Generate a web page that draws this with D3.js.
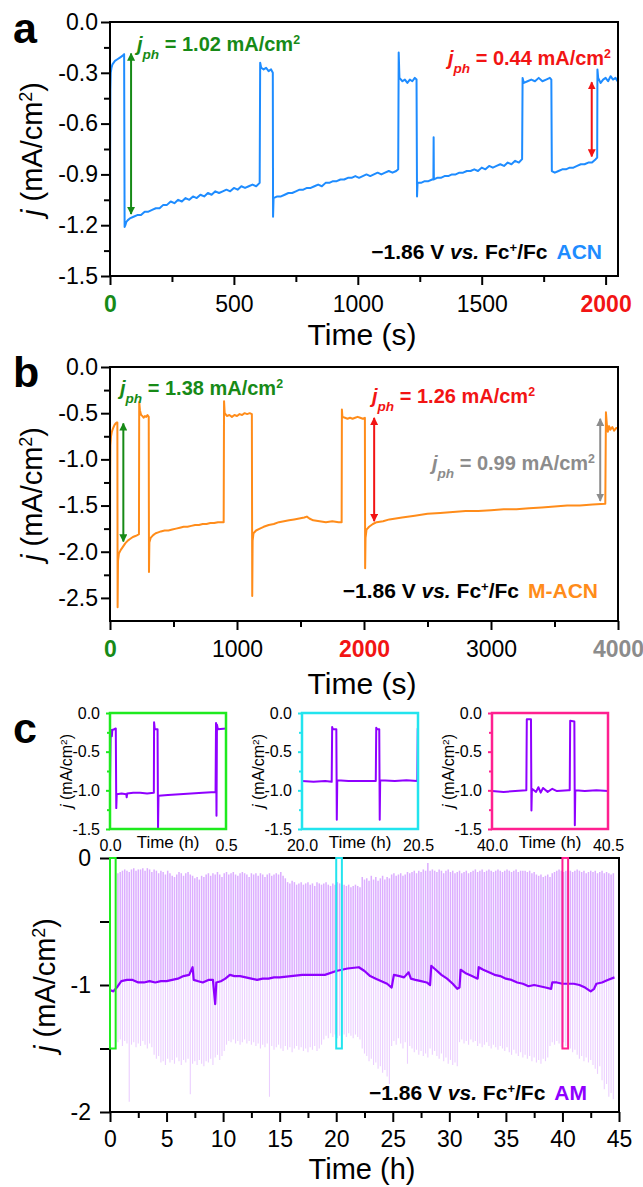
<!DOCTYPE html>
<meta charset="utf-8">
<style>
body { margin: 0; background: #fff; }
svg { font-family: "Liberation Sans", Arial, Helvetica, sans-serif; }
</style>
<body>
<script src="https://d3js.org/d3.v7.min.js"></script>
<script>
var width = 643, height = 1187;

var green = "#178a17", red = "#f21414", gray = "#8c8c8c",
    blue = "#1e8cff", orange = "#ff8c1a", purple = "#8f00ff",
    lilacUp = "#dcaeff", lilacDown = "#ebcfff";

// ---------- panel a : ACN, time (s) vs j (mA/cm2)
var acnTrace = [[0,-1.50],[0.5,-0.80],[1.5,-0.40],[3,-0.30],[6,-0.27],[10,-0.25],[15,-0.24],[20,-0.23],[30,-0.22],[40,-0.21],[50,-0.20],[57,-0.19],
  [59,-1.21],[62,-1.20],[66,-1.18],[72,-1.17],[80,-1.16],[95,-1.15],[110,-1.14],[125,-1.14],[140,-1.12],[155,-1.12],[170,-1.11],[185,-1.10],[200,-1.10],[215,-1.08],[230,-1.08],[245,-1.06],[260,-1.07],[275,-1.05],[290,-1.06],[305,-1.04],[320,-1.05],[335,-1.03],[350,-1.04],[365,-1.02],[380,-1.03],[395,-1.01],[410,-1.02],[425,-1.00],[440,-1.01],[455,-1.00],[470,-0.99],[485,-1.00],[500,-0.98],[515,-0.99],[530,-0.97],[545,-0.98],[560,-0.97],[575,-0.96],[590,-0.97],[604,-0.95],
  [606,-0.24],[610,-0.27],[620,-0.28],[630,-0.27],[640,-0.29],[650,-0.28],[657,-0.30],
  [658,-1.15],[660,-1.04],[675,-1.03],[690,-1.03],[705,-1.02],[720,-1.01],[735,-1.01],[750,-1.00],[765,-0.99],[780,-0.99],[795,-0.98],[810,-0.98],[825,-0.97],[840,-0.96],[855,-0.97],[870,-0.95],[885,-0.95],[900,-0.94],[915,-0.94],[930,-0.93],[945,-0.93],[960,-0.92],[975,-0.92],[990,-0.91],[1005,-0.92],[1020,-0.91],[1035,-0.90],[1050,-0.91],[1065,-0.90],[1080,-0.89],[1095,-0.90],[1110,-0.89],[1125,-0.88],[1140,-0.89],[1155,-0.88],[1163,-0.87],
  [1165,-0.18],[1168,-0.33],[1180,-0.35],[1190,-0.34],[1200,-0.36],[1210,-0.34],[1220,-0.35],[1230,-0.33],[1237,-0.34],
  [1239,-1.03],[1241,-0.95],[1255,-0.95],[1270,-0.94],[1285,-0.94],[1300,-0.93],[1305,-0.93],[1306,-0.68],[1307,-0.93],[1320,-0.92],[1335,-0.92],[1350,-0.91],[1365,-0.91],[1380,-0.90],[1395,-0.90],[1410,-0.89],[1425,-0.89],[1440,-0.88],[1455,-0.88],[1470,-0.87],[1485,-0.88],[1500,-0.86],[1515,-0.87],[1530,-0.85],[1545,-0.86],[1560,-0.85],[1575,-0.84],[1590,-0.85],[1605,-0.83],[1620,-0.84],[1635,-0.82],[1650,-0.83],[1663,-0.81],
  [1665,-0.33],[1670,-0.36],[1685,-0.35],[1700,-0.34],[1715,-0.35],[1730,-0.33],[1745,-0.35],[1760,-0.34],[1775,-0.33],[1781,-0.34],
  [1783,-0.88],[1795,-0.89],[1810,-0.88],[1825,-0.87],[1840,-0.87],[1855,-0.86],[1870,-0.86],[1885,-0.85],[1900,-0.84],[1915,-0.84],[1930,-0.83],[1945,-0.83],[1960,-0.81],[1966,-0.80],
  [1967,-0.28],[1970,-0.33],[1980,-0.36],[1990,-0.34],[2000,-0.33],[2010,-0.35],[2020,-0.32],[2030,-0.34],[2040,-0.33],[2048,-0.35]];
var acnXMajor = [0, 500, 1000, 1500, 2000], acnXMinor = [250, 750, 1250, 1750];
var acnYMajor = [0, -0.3, -0.6, -0.9, -1.2, -1.5], acnYMinor = [-0.15, -0.45, -0.75, -1.05, -1.35];
var acnArrows = [[85, -0.18, -1.14, green], [1944, -0.35, -0.80, red]];

// ---------- panel b : M-ACN
var macnTrace = [[0,-2.75],[1,-1.20],[3,-0.85],[8,-0.75],[15,-0.70],[25,-0.66],[35,-0.63],[45,-0.61],[55,-0.60],[58,-0.60],
  [60,-2.60],[63,-2.10],[70,-2.02],[85,-1.98],[100,-1.95],[120,-1.91],[140,-1.88],[160,-1.86],[180,-1.84],[200,-1.83],[215,-1.82],[228,-1.81],
  [230,-0.38],[236,-0.47],[245,-0.52],[255,-0.53],[265,-0.55],[275,-0.53],[285,-0.54],[295,-0.52],[305,-0.54],
  [307,-2.22],[310,-1.90],[320,-1.85],[340,-1.82],[360,-1.80],[380,-1.79],[400,-1.78],[430,-1.77],[460,-1.77],[490,-1.76],[520,-1.75],[550,-1.74],[580,-1.73],[610,-1.73],[640,-1.72],[670,-1.71],[700,-1.71],[730,-1.70],[760,-1.70],[790,-1.69],[820,-1.69],[850,-1.68],[880,-1.68],[895,-1.68],
  [898,-0.37],[903,-0.50],[920,-0.53],[940,-0.52],[960,-0.54],[980,-0.52],[1000,-0.53],[1020,-0.51],[1040,-0.52],[1060,-0.50],[1080,-0.51],[1100,-0.50],[1117,-0.51],
  [1120,-2.48],[1123,-1.88],[1130,-1.80],[1150,-1.77],[1180,-1.75],[1210,-1.73],[1250,-1.71],[1290,-1.70],[1330,-1.68],[1370,-1.67],[1410,-1.66],[1450,-1.65],[1490,-1.64],[1530,-1.63],[1550,-1.62],[1570,-1.64],[1600,-1.66],[1650,-1.67],[1700,-1.68],[1750,-1.67],[1800,-1.68],[1824,-1.68],
  [1826,-0.46],[1830,-0.54],[1850,-0.55],[1870,-0.56],[1890,-0.55],[1910,-0.56],[1930,-0.55],[1950,-0.54],[1970,-0.55],[1990,-0.56],[2007,-0.55],
  [2009,-2.18],[2012,-1.85],[2020,-1.76],[2040,-1.73],[2070,-1.70],[2100,-1.68],[2150,-1.67],[2200,-1.65],[2300,-1.63],[2400,-1.61],[2500,-1.59],[2600,-1.58],[2700,-1.57],[2800,-1.56],[2900,-1.56],[3000,-1.55],[3100,-1.54],[3200,-1.54],[3300,-1.53],[3400,-1.52],[3500,-1.51],[3600,-1.50],[3700,-1.50],[3800,-1.49],[3900,-1.48],
  [3905,-0.49],[3912,-0.62],[3920,-0.70],[3930,-0.64],[3940,-0.68],[3955,-0.65],[3970,-0.69],[3985,-0.66],[4000,-0.67]];
var macnXMajor = [0, 1000, 2000, 3000, 4000], macnXMinor = [500, 1500, 2500, 3500];
var macnYMajor = [0, -0.5, -1, -1.5, -2, -2.5], macnYMinor = [-0.25, -0.75, -1.25, -1.75, -2.25];
var macnArrows = [[105, -0.60, -1.90, green], [2080, -0.54, -1.68, red], [3860, -0.55, -1.46, gray]];

// ---------- panel c : AM, long run (h)
var amBase = [[0,-1.04],[0.3,-1.05],[0.6,-1.02],[1,-0.97],[1.5,-0.96],[2,-0.96],[2.5,-0.98],[3,-0.98],[3.5,-0.97],[4,-0.98],[4.5,-0.97],[5,-0.97],[5.5,-0.96],[6,-0.95],[6.5,-0.93],[7,-0.92],[7.3,-0.86],[7.4,-0.96],[7.8,-0.97],[8.2,-0.98],[8.7,-0.96],[9.1,-0.96],[9.3,-1.15],[9.4,-0.98],[9.8,-0.97],[10.2,-0.95],[10.6,-0.92],[11,-0.93],[11.5,-0.93],[12,-0.94],[12.5,-0.95],[13,-0.96],[13.5,-0.95],[14,-0.95],[14.5,-0.94],[15,-0.94],[16,-0.93],[17,-0.92],[18,-0.92],[19,-0.92],[20,-0.89],[21,-0.87],[22,-0.86],[22.5,-0.89],[23,-0.93],[23.5,-0.95],[24,-0.97],[24.5,-0.99],[24.9,-1.02],[25.1,-0.92],[25.6,-0.93],[26,-0.94],[26.4,-0.90],[26.6,-0.95],[27,-0.96],[27.5,-0.97],[28,-0.98],[28.3,-1.00],[28.4,-0.85],[28.8,-0.88],[29.3,-0.92],[29.8,-0.95],[30.3,-0.99],[30.7,-1.03],[30.9,-1.02],[31,-0.88],[31.5,-0.91],[32,-0.93],[32.5,-0.95],[32.6,-0.86],[33,-0.88],[33.5,-0.90],[34,-0.92],[34.5,-0.93],[35,-0.95],[35.5,-0.96],[36,-0.98],[36.5,-0.99],[37,-1.01],[37.5,-1.00],[38,-1.01],[38.5,-1.02],[39,-1.03],[39.1,-0.98],[39.5,-0.98],[40,-0.99],[40.5,-0.99],[41,-0.99],[41.5,-1.00],[42,-1.02],[42.5,-1.05],[42.8,-1.03],[43,-0.99],[43.5,-0.98],[44,-0.96],[44.6,-0.94]];
// light-on pulses, one every 0.2 h from 0.7 h: peak (top) and cathodic spike (low)
var pulseStart = 0.7, pulseStep = 0.2;
var pulseTop = [
  -0.12,-0.11,-0.10,-0.09,-0.10,-0.11,-0.09,-0.08,-0.10,-0.09,
  -0.09,-0.08,-0.10,-0.08,-0.09,-0.11,-0.09,-0.10,-0.12,-0.10,
  -0.11,-0.13,-0.10,-0.12,-0.14,-0.15,-0.13,-0.11,-0.12,-0.14,
  -0.12,-0.11,-0.13,-0.14,-0.16,-0.15,-0.17,-0.14,-0.15,-0.13,
  -0.12,-0.14,-0.12,-0.13,-0.11,-0.13,-0.15,-0.12,-0.11,-0.13,
  -0.12,-0.11,-0.13,-0.14,-0.12,-0.11,-0.12,-0.13,-0.15,-0.12,
  -0.13,-0.12,-0.14,-0.12,-0.13,-0.15,-0.13,-0.12,-0.14,-0.13,
  -0.12,-0.13,-0.11,-0.14,-0.16,-0.19,-0.20,-0.18,-0.19,-0.21,
  -0.20,-0.19,-0.21,-0.20,-0.19,-0.21,-0.20,-0.22,-0.19,-0.20,
  -0.21,-0.20,-0.19,-0.21,-0.22,-0.20,-0.21,-0.19,-0.20,-0.21,
  -0.21,-0.22,-0.21,-0.23,-0.22,-0.21,-0.22,-0.23,-0.15,-0.17,
  -0.16,-0.18,-0.14,-0.17,-0.15,-0.18,-0.16,-0.14,-0.17,-0.15,
  -0.16,-0.13,-0.12,-0.14,-0.13,-0.12,-0.14,-0.13,-0.11,-0.12,
  -0.11,-0.10,-0.12,-0.10,-0.11,-0.09,-0.10,-0.04,-0.10,-0.09,
  -0.10,-0.11,-0.09,-0.10,-0.12,-0.10,-0.09,-0.11,-0.10,-0.12,
  -0.11,-0.10,-0.12,-0.11,-0.10,-0.12,-0.11,-0.10,-0.09,-0.11,
  -0.10,-0.09,-0.11,-0.10,-0.09,-0.10,-0.11,-0.10,-0.09,-0.10,
  -0.11,-0.10,-0.09,-0.10,-0.11,-0.10,-0.09,-0.11,-0.10,-0.10,
  -0.10,-0.11,-0.10,-0.12,-0.11,-0.13,-0.14,-0.13,-0.15,-0.14,
  -0.13,-0.15,-0.12,-0.11,-0.10,-0.09,-0.10,-0.11,-0.10,-0.09,
  -0.10,-0.11,-0.10,-0.09,-0.10,-0.11,-0.10,-0.12,-0.11,-0.10,
  -0.11,-0.10,-0.12,-0.11,-0.10,-0.12,-0.11,-0.12,-0.13,-0.12];
var pulseLow = [
  -1.45,-1.43,-1.48,-1.44,-1.46,-1.92,-1.47,-1.45,-1.49,-1.46,
  -1.48,-1.44,-1.47,-1.50,-1.46,-1.49,-1.55,-1.58,-1.56,-1.61,
  -1.60,-1.63,-1.58,-1.61,-1.59,-1.62,-1.57,-1.60,-1.63,-1.59,
  -1.61,-1.58,-1.86,-1.62,-1.60,-1.63,-1.59,-1.62,-1.64,-1.60,
  -1.61,-1.58,-1.63,-1.57,-1.55,-1.59,-1.56,-1.52,-1.47,-1.44,
  -1.45,-1.43,-1.46,-1.44,-1.47,-1.45,-1.43,-1.46,-1.44,-1.47,
  -1.45,-1.48,-1.46,-1.50,-1.47,-1.49,-1.46,-1.88,-1.48,-1.51,
  -1.49,-1.47,-1.50,-1.52,-1.48,-1.51,-1.49,-1.53,-1.50,-1.48,
  -1.51,-1.49,-1.52,-1.50,-1.53,-1.49,-1.51,-1.48,-1.52,-1.50,
  -1.47,-1.43,-1.40,-1.42,-1.38,-1.41,-1.39,-1.42,-1.40,-1.37,
  -1.39,-1.41,-1.38,-1.40,-1.42,-1.39,-1.41,-1.43,-1.50,-1.54,
  -1.56,-1.60,-1.58,-1.63,-1.61,-1.66,-1.64,-1.69,-1.67,-1.72,
  -1.78,-1.48,-1.44,-1.47,-1.42,-1.46,-1.50,-1.45,-1.62,-1.48,
  -1.50,-1.53,-1.51,-1.55,-1.52,-1.56,-1.54,-1.57,-1.50,-1.55,
  -1.52,-1.56,-1.58,-1.54,-1.60,-1.57,-1.62,-1.59,-1.63,-1.61,
  -1.64,-1.45,-1.43,-1.46,-1.44,-1.47,-1.43,-1.45,-1.44,-1.48,
  -1.46,-1.49,-1.47,-1.45,-1.48,-1.50,-1.47,-1.49,-1.51,-1.48,
  -1.50,-1.52,-1.49,-1.53,-1.55,-1.51,-1.54,-1.56,-1.53,-1.57,
  -1.55,-1.58,-1.56,-1.60,-1.57,-1.61,-1.59,-1.62,-1.58,-1.60,
  -1.57,-1.48,-1.45,-1.47,-1.44,-1.46,-1.49,-1.45,-1.48,-1.47,
  -1.50,-1.53,-1.51,-1.55,-1.58,-1.56,-1.60,-1.57,-1.61,-1.59,
  -1.63,-1.66,-1.70,-1.64,-1.75,-1.82,-1.78,-1.88,-1.85,-1.90];
var amXMajor = [0, 5, 10, 15, 20, 25, 30, 35, 40, 45], amXMinor = [2.5, 7.5, 12.5, 17.5, 22.5, 27.5, 32.5, 37.5, 42.5];
var amYMajor = [0, -0.5, -1, -1.5, -2];

// zoomed windows (insets)
var insetWindows = [[0, 0.5], [20, 20.5], [40, 40.5]];
var insetTraces = [
  [[0,-0.90],[0.003,-0.25],[0.006,-0.22],[0.008,-0.30],[0.010,-0.22],[0.018,-0.21],[0.025,-0.20],[0.027,-1.23],[0.029,-1.05],[0.05,-1.04],[0.07,-1.05],[0.072,-1.09],[0.074,-1.04],[0.10,-1.03],[0.13,-1.03],[0.16,-1.04],[0.189,-1.03],[0.190,-0.12],[0.193,-0.21],[0.205,-0.21],[0.207,-1.50],[0.209,-1.07],[0.25,-1.06],[0.30,-1.05],[0.35,-1.04],[0.40,-1.03],[0.455,-1.02],[0.457,-0.13],[0.459,-1.33],[0.461,-0.15],[0.465,-0.21],[0.50,-0.20]],
  [[20.00,-0.88],[20.05,-0.89],[20.10,-0.88],[20.128,-0.89],[20.130,-0.18],[20.133,-0.21],[20.148,-0.21],[20.150,-1.38],[20.152,-0.87],[20.20,-0.88],[20.25,-0.88],[20.30,-0.88],[20.318,-0.88],[20.320,-0.19],[20.323,-0.21],[20.333,-0.21],[20.335,-1.38],[20.337,-0.87],[20.40,-0.88],[20.45,-0.87],[20.497,-0.88],[20.499,-0.20],[20.50,-0.20]],
  [[40.00,-1.01],[40.05,-1.02],[40.10,-1.01],[40.148,-1.00],[40.150,-0.08],[40.168,-0.08],[40.170,-1.26],[40.172,-0.98],[40.19,-1.02],[40.20,-0.96],[40.21,-1.03],[40.22,-0.97],[40.24,-1.02],[40.26,-0.98],[40.28,-1.01],[40.33,-1.00],[40.335,-1.00],[40.337,-0.10],[40.355,-0.11],[40.357,-1.45],[40.359,-1.00],[40.40,-1.01],[40.45,-1.00],[40.50,-1.01]]];
var insetYMajor = [0, -0.5, -1, -1.5], insetYMinor = [-0.25, -0.75, -1.25];
var insetColors = ["#1eea1e", "#22e4ee", "#ff2090"];

var svg = d3.select("body").append("svg")
    .attr("width", width)
    .attr("height", height);

var defs = svg.append("defs");
[[green, "ag"], [red, "ar"], [gray, "ay"]].forEach(function(c) {
  defs.append("marker").attr("id", c[1])
    .attr("viewBox", "0 0 10 10").attr("refX", 9).attr("refY", 5)
    .attr("markerWidth", 4).attr("markerHeight", 4)
    .attr("orient", "auto-start-reverse")
    .append("path").attr("d", "M0,0L10,5L0,10z").attr("fill", c[0]);
});
var markerOf = {};
markerOf[green] = "ag"; markerOf[red] = "ar"; markerOf[gray] = "ay";

// text with italic / super / sub pieces
function rich(parent, x, y, parts, o) {
  var t = parent.append("text").attr("x", x).attr("y", y)
      .attr("font-size", o.size)
      .attr("font-weight", o.bold ? "bold" : "normal")
      .attr("fill", o.color || "#000")
      .attr("text-anchor", o.anchor || "start");
  if (o.rotate) t.attr("transform", "rotate(-90," + x + "," + y + ")");
  parts.forEach(function(p) {
    var s = t.append("tspan").text(p[0]);
    var f = p[1] || "";
    if (f.indexOf("i") >= 0) s.attr("font-style", "italic");
    if (f.indexOf("^") >= 0) s.attr("baseline-shift", "super").attr("font-size", "62%");
    if (f.indexOf("_") >= 0) s.attr("baseline-shift", "sub").attr("font-size", "68%");
    if (p[2]) s.attr("fill", p[2]);
    if (p[3]) s.attr("dx", p[3]);
  });
  return t;
}

function drawAxes(x, y, o) {
  var g = svg.append("g");
  var bottom = y.range()[1], left = x.range()[0];
  g.append("g").attr("transform", "translate(0," + bottom + ")")
    .call(d3.axisBottom(x).tickValues(o.xMinor).tickSize(o.minor).tickFormat(""));
  var xg = g.append("g").attr("class", "xa").attr("transform", "translate(0," + bottom + ")")
    .call(d3.axisBottom(x).tickValues(o.xMajor).tickSize(o.major).tickPadding(o.xPad).tickFormat(o.xFmt));
  g.append("g").attr("transform", "translate(" + left + ",0)")
    .call(d3.axisLeft(y).tickValues(o.yMinor).tickSize(o.minor).tickFormat(""));
  g.append("g").attr("transform", "translate(" + left + ",0)")
    .call(d3.axisLeft(y).tickValues(o.yMajor).tickSize(o.major).tickPadding(o.yPad).tickFormat(o.yFmt));
  g.selectAll(".domain").remove();
  g.selectAll("g").attr("font-family", null).attr("font-size", o.font);
  g.selectAll(".tick line").attr("stroke", o.tickColor || "#000").attr("stroke-width", o.tickWidth || 2);
  g.selectAll(".tick text").attr("fill", "#000");
  g.append("rect")
    .attr("x", left).attr("y", y.range()[0])
    .attr("width", x.range()[1] - left).attr("height", bottom - y.range()[0])
    .attr("fill", "none").attr("stroke", o.frame || "#000").attr("stroke-width", o.frameWidth || 2);
  return xg;
}

function colorTicks(xg, colors) {
  xg.selectAll(".tick text")
    .attr("fill", function(d) { return colors[d] || "#000"; })
    .attr("font-weight", function(d) { return colors[d] ? "bold" : "normal"; });
}

function trace(x, y, data, color, w) {
  svg.append("path").datum(data)
    .attr("fill", "none").attr("stroke", color).attr("stroke-width", w)
    .attr("stroke-linejoin", "round")
    .attr("d", d3.line().x(function(d) { return x(d[0]); }).y(function(d) { return y(d[1]); }));
}

function arrows(x, y, list) {
  list.forEach(function(a) {
    svg.append("line")
      .attr("x1", x(a[0])).attr("x2", x(a[0]))
      .attr("y1", y(a[1]) + 1).attr("y2", y(a[2]) - 1)
      .attr("stroke", a[3]).attr("stroke-width", 2)
      .attr("marker-start", "url(#" + markerOf[a[3]] + ")")
      .attr("marker-end", "url(#" + markerOf[a[3]] + ")");
  });
}

var fmt1 = function(d) { return d.toFixed(1); };
var fmt0 = function(d) { return String(d); };

// ================= panel a
var xA = d3.scaleLinear().domain([0, 2050]).range([110, 618]);
var yA = d3.scaleLinear().domain([0, -1.5]).range([22, 276]);
trace(xA, yA, acnTrace, blue, 2);
var xgA = drawAxes(xA, yA, {xMajor: acnXMajor, xMinor: acnXMinor, yMajor: acnYMajor, yMinor: acnYMinor,
  major: 9, minor: 6, xPad: 11, yPad: 3, xFmt: fmt0, yFmt: fmt1, font: 23});
colorTicks(xgA, {0: green, 2000: red});
arrows(xA, yA, acnArrows);
rich(svg, 137, 51, [["j", "i"], ["ph", "i_"], [" = 1.02 mA/cm"], ["2", "^"]], {size: 20, bold: true, color: green});
rich(svg, 611, 65, [["j", "i"], ["ph", "i_"], [" = 0.44 mA/cm"], ["2", "^"]], {size: 20, bold: true, color: red, anchor: "end"});
rich(svg, 602, 259, [["\u22121.86 V "], ["vs.", "i"], [" Fc"], ["+", "^"], ["/Fc"], ["ACN", "", blue, 9]], {size: 21, bold: true, anchor: "end"});
rich(svg, 362, 345, [["Time (s)"]], {size: 30, anchor: "middle"});
rich(svg, 42, 149, [["j", "i"], [" (mA/cm"], ["2", "^"], [")"]], {size: 29, anchor: "middle", rotate: true});
rich(svg, 13, 43, [["a"]], {size: 43, bold: true});

// ================= panel b
var xB = d3.scaleLinear().domain([0, 4000]).range([110, 618]);
var yB = d3.scaleLinear().domain([0, -2.75]).range([367, 621]);
trace(xB, yB, macnTrace, orange, 2);
var xgB = drawAxes(xB, yB, {xMajor: macnXMajor, xMinor: macnXMinor, yMajor: macnYMajor, yMinor: macnYMinor,
  major: 9, minor: 6, xPad: 11, yPad: 3, xFmt: fmt0, yFmt: fmt1, font: 23});
colorTicks(xgB, {0: green, 2000: red, 4000: gray});
arrows(xB, yB, macnArrows);
rich(svg, 120, 395, [["j", "i"], ["ph", "i_"], [" = 1.38 mA/cm"], ["2", "^"]], {size: 20, bold: true, color: green});
rich(svg, 372, 403, [["j", "i"], ["ph", "i_"], [" = 1.26 mA/cm"], ["2", "^"]], {size: 20, bold: true, color: red});
rich(svg, 595, 470, [["j", "i"], ["ph", "i_"], [" = 0.99 mA/cm"], ["2", "^"]], {size: 20, bold: true, color: gray, anchor: "end"});
rich(svg, 598, 598, [["\u22121.86 V "], ["vs.", "i"], [" Fc"], ["+", "^"], ["/Fc"], ["M-ACN", "", orange, 9]], {size: 21, bold: true, anchor: "end"});
rich(svg, 362, 694, [["Time (s)"]], {size: 30, anchor: "middle"});
rich(svg, 42, 494, [["j", "i"], [" (mA/cm"], ["2", "^"], [")"]], {size: 29, anchor: "middle", rotate: true});
rich(svg, 13, 387, [["b"]], {size: 43, bold: true});

// ================= panel c, main
var xC = d3.scaleLinear().domain([0, 45]).range([110, 619]);
var yC = d3.scaleLinear().domain([0, -2]).range([858, 1112]);
// baseline level under each pulse
var baseAt = d3.scaleLinear().domain(amBase.map(function(d) { return d[0]; })).range(amBase.map(function(d) { return d[1]; }));
var pulseTimes = pulseTop.map(function(d, i) { return pulseStart + i * pulseStep; });
var pulses = svg.append("g");
pulses.selectAll("line.dn").data(pulseTimes).join("line").attr("class", "dn")
  .attr("x1", function(d) { return xC(d); }).attr("x2", function(d) { return xC(d); })
  .attr("y1", function(d) { return yC(baseAt(d)); })
  .attr("y2", function(d, i) { return yC(pulseLow[i]); })
  .attr("stroke", lilacDown).attr("stroke-width", 1.1);
pulses.selectAll("line.up").data(pulseTimes).join("line").attr("class", "up")
  .attr("x1", function(d) { return xC(d); }).attr("x2", function(d) { return xC(d); })
  .attr("y1", function(d, i) { return yC(pulseTop[i]); })
  .attr("y2", function(d) { return yC(baseAt(d)); })
  .attr("stroke", lilacUp).attr("stroke-width", 1.5);
trace(xC, yC, amBase, purple, 2.2);
drawAxes(xC, yC, {xMajor: amXMajor, xMinor: amXMinor, yMajor: amYMajor, yMinor: [],
  major: 10, minor: 6, xPad: 9, yPad: 9, xFmt: fmt0,
  yFmt: function(d) { return d % 1 === 0 ? String(d) : ""; }, font: 23});
svg.append("g").selectAll("rect").data(insetWindows).join("rect")
  .attr("x", function(d) { return xC(d[0]); })
  .attr("width", function(d) { return xC(d[1]) - xC(d[0]); })
  .attr("y", yC(0)).attr("height", yC(-1.5) - yC(0))
  .attr("fill", "none").attr("stroke-width", 2)
  .attr("stroke", function(d, i) { return insetColors[i]; });
rich(svg, 587, 1100, [["\u22121.86 V "], ["vs.", "i"], [" Fc"], ["+", "^"], ["/Fc"], ["AM", "", purple, 9]], {size: 21, bold: true, anchor: "end"});
rich(svg, 362, 1179, [["Time (h)"]], {size: 29, anchor: "middle"});
rich(svg, 55, 985, [["j", "i"], [" (mA/cm"], ["2", "^"], [")"]], {size: 29, anchor: "middle", rotate: true});
rich(svg, 13, 743, [["c"]], {size: 43, bold: true});

// ================= panel c, insets
var insetLeft = [110, 302, 492], insetW = 116;
var yI = d3.scaleLinear().domain([0, -1.5]).range([713, 829]);
insetWindows.forEach(function(win, i) {
  var xI = d3.scaleLinear().domain(win).range([insetLeft[i], insetLeft[i] + insetW]);
  trace(xI, yI, insetTraces[i], purple, 2);
  var xg = drawAxes(xI, yI, {xMajor: win, xMinor: [], yMajor: insetYMajor, yMinor: insetYMinor,
    major: 4, minor: 3, xPad: 7, yPad: 6, xFmt: fmt1, yFmt: fmt1, font: 16,
    tickColor: insetColors[i], frame: insetColors[i], frameWidth: 2.5});
  xg.selectAll(".tick line").remove();
  rich(svg, insetLeft[i] + insetW / 2, 848, [["Time (h)"]], {size: 17, anchor: "middle"});
  rich(svg, insetLeft[i] - 38, 771, [["j", "i"], [" (mA/cm"], ["2", "^"], [")"]], {size: 16, anchor: "middle", rotate: true});
});
</script>
</body>
